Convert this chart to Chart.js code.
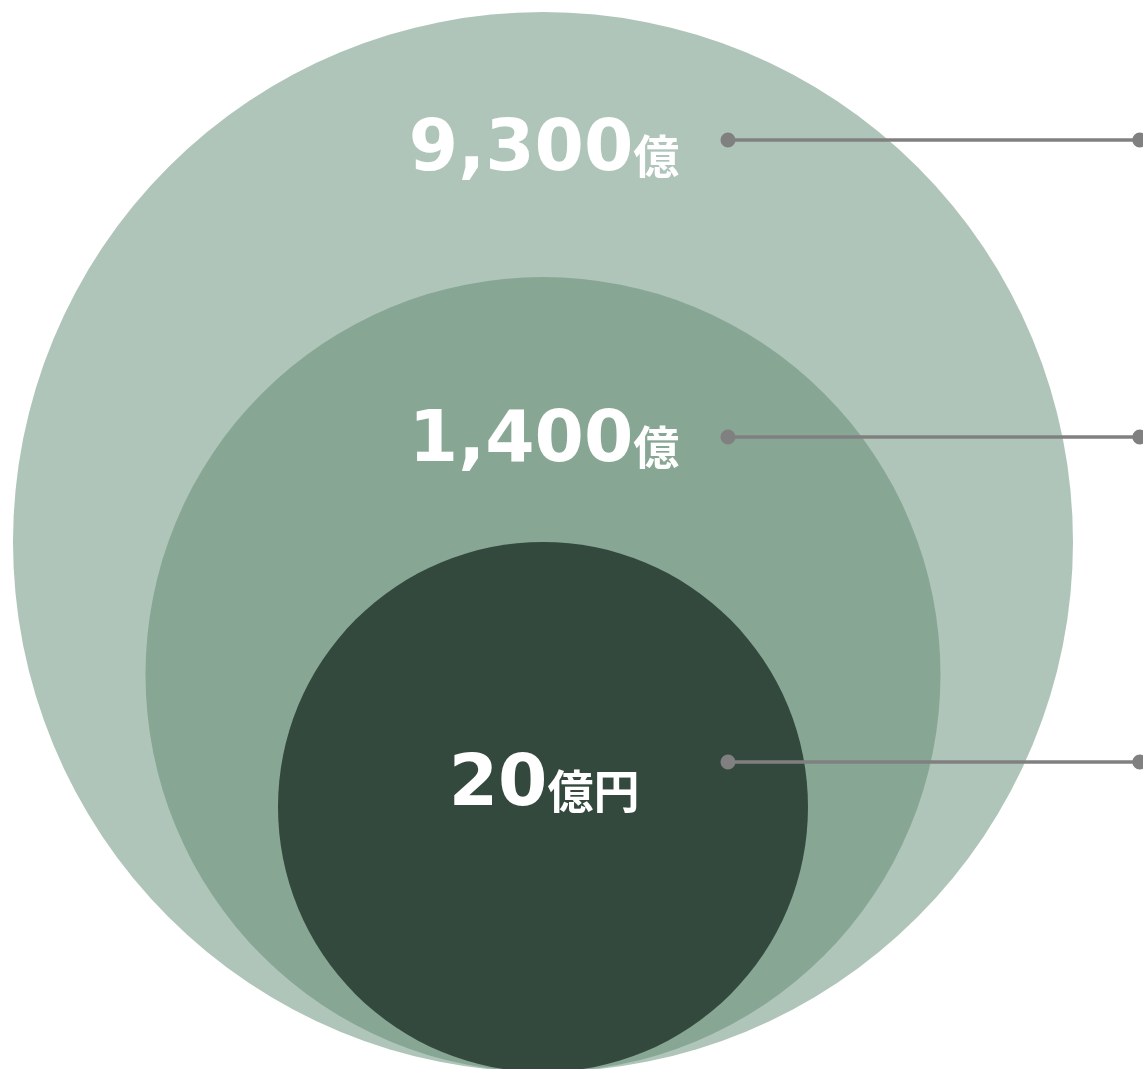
<!DOCTYPE html>
<html>
<head>
<meta charset="utf-8">
<script src="https://cdn.jsdelivr.net/npm/chart.js@4.4.1/dist/chart.umd.min.js"></script>
<style>
  html, body { margin: 0; padding: 0; background: #fff; overflow: hidden; }
  #wrap { width: 1143px; height: 1069px; position: relative; }
</style>
</head>
<body>
<div id="wrap"><canvas id="circles"></canvas></div>
<script>
// market sizes, outer ring to inner ring
var values = [9300, 1400, 20];
var numberLabels = ['9,300', '1,400', '20'];
var unitLabels = ['億', '億', '億円'];
// relative radius of each nested circle (they all sit on one baseline)
var ringRadius = [1, 0.75, 0.5];
var ringColors = ['#afc5b9', '#87a794', '#34493d'];

// label rows, in axis units (baseline of text, y of leader line)
var textBase = [1.702, 1.153, 0.504];
var lineY = [1.7585, 1.198, 0.585];

// draws the value labels and the leader lines to the right
var labelPlugin = {
  id: 'ringLabels',
  afterDatasetsDraw: function(chart) {
    var ctx = chart.ctx;
    var xs = chart.scales.x, ys = chart.scales.y;
    var cx = xs.getPixelForValue(0.002);
    ctx.save();
    for (var i = 0; i < values.length; i++) {
      // leader line
      var ly = Math.round(ys.getPixelForValue(lineY[i]));
      var x1 = xs.getPixelForValue(0.349), x2 = xs.getPixelForValue(1.126);
      ctx.strokeStyle = '#808080';
      ctx.fillStyle = '#808080';
      ctx.lineWidth = 3.5;
      ctx.beginPath();
      ctx.moveTo(x1, ly);
      ctx.lineTo(x2, ly);
      ctx.stroke();
      ctx.beginPath();
      ctx.arc(x1, ly, 7.5, 0, Math.PI * 2);
      ctx.arc(x2, ly, 7.5, 0, Math.PI * 2);
      ctx.fill();

      // value text: big digits + smaller unit
      var by = ys.getPixelForValue(textBase[i]);
      var numFont = 'bold 71px "DejaVu Sans"';
      var unitFont = 'bold 46px "Noto Sans CJK JP"';
      ctx.font = numFont;
      var wn = ctx.measureText(numberLabels[i]).width;
      ctx.font = unitFont;
      var wu = ctx.measureText(unitLabels[i]).width;
      var start = cx - (wn + wu) / 2;
      ctx.fillStyle = '#ffffff';
      ctx.textBaseline = 'alphabetic';
      ctx.textAlign = 'left';
      ctx.font = numFont;
      ctx.fillText(numberLabels[i], start, by);
      ctx.font = unitFont;
      ctx.fillText(unitLabels[i], start + wn, by + 3);
    }
    ctx.restore();
  }
};

var points = values.map(function(v, i) {
  return { x: 0, y: ringRadius[i], r: ringRadius[i], value: v };
});

function ringPixels(c) {
  var s = c.chart.scales.x;
  return s.getPixelForValue(c.raw.r) - s.getPixelForValue(0);
}

new Chart(document.getElementById('circles'), {
  type: 'scatter',
  data: {
    datasets: [{
      data: points,
      backgroundColor: ringColors,
      borderWidth: 0,
      pointBorderWidth: 0,
      pointRadius: ringPixels,
      pointHoverRadius: ringPixels,
      clip: false
    }]
  },
  options: {
    responsive: true,
    maintainAspectRatio: false,
    animation: false,
    events: [],
    layout: { padding: 0 },
    plugins: {
      legend: { display: false },
      tooltip: { enabled: false }
    },
    scales: {
      x: { type: 'linear', display: false, min: -1.02453, max: 1.13208 },
      y: { type: 'linear', display: false, min: 0.00566, max: 2.02264 }
    }
  },
  plugins: [labelPlugin]
});
</script>
</body>
</html>
